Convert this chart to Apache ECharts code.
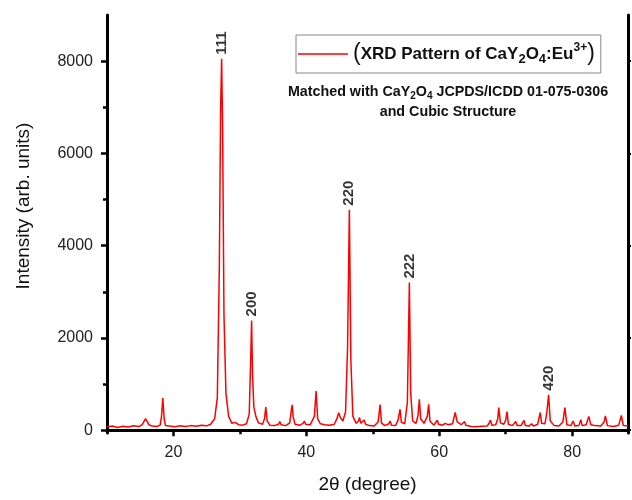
<!DOCTYPE html>
<html>
<head>
<meta charset="utf-8">
<script src="https://cdn.jsdelivr.net/npm/echarts@6/dist/echarts.min.js"></script>
<style>html,body{margin:0;padding:0;background:#fff;}#c{width:632px;height:500px;}</style>
</head>
<body>
<div id="c"></div>
<script>
// 2θ (degree) values
const twoTheta = [
10.0,10.8,11.6,12.4,13.2,14.0,14.8,15.3,15.8,16.3,16.8,17.5,18.0,18.2,18.4,18.6,18.8,19.4,20.2,21.0,
21.8,22.6,23.4,24.2,25.0,25.6,26.2,26.6,26.9,27.1,27.25,27.4,27.6,27.9,28.3,28.8,29.3,29.8,30.4,31.0,
31.4,31.6,31.76,31.9,32.1,32.4,32.8,33.4,33.7,33.9,34.1,34.5,35.2,35.8,36.0,36.2,36.9,37.5,37.75,37.87,
38.0,38.3,39.0,39.5,39.7,39.9,40.6,41.2,41.47,41.7,42.1,42.8,43.5,44.2,44.6,44.87,45.1,45.5,45.9,46.2,
46.47,46.7,47.0,47.5,47.85,48.0,48.2,48.5,48.7,48.9,49.5,50.2,50.8,51.1,51.3,51.8,52.4,52.6,52.8,53.4,
53.8,54.1,54.3,54.8,55.2,55.5,55.7,56.0,56.5,56.8,57.0,57.2,57.7,58.2,58.4,58.6,59.2,59.5,59.7,59.9,
60.5,60.9,61.1,61.3,62.0,62.4,62.7,63.3,63.6,63.8,64.0,64.8,65.6,66.4,67.2,67.5,67.7,67.9,68.5,68.8,
68.95,69.2,69.7,70.0,70.2,70.4,71.0,71.3,71.5,71.7,72.3,72.6,72.75,72.95,73.5,73.9,74.0,74.2,74.8,75.2,
75.4,75.9,76.2,76.45,76.7,77.3,78.0,78.6,78.9,79.2,79.8,80.15,80.4,81.0,81.3,81.5,82.1,82.5,82.8,83.5,
84.3,84.8,85.0,85.3,86.2,87.0,87.4,87.7,88.4
];
// Intensity (arb. units) values
const intensity = [
70,90,60,85,70,95,80,120,250,120,90,80,110,300,700,250,100,90,75,95,
80,100,85,110,95,130,250,700,3500,7000,8050,6500,2500,800,300,150,170,120,110,140,
350,1400,2380,1200,500,300,160,130,250,500,200,110,100,130,190,120,100,160,450,550,
300,130,110,150,200,130,120,300,850,250,140,120,110,130,250,380,280,200,400,1800,
4780,1500,300,150,200,275,150,140,220,130,100,90,180,555,160,100,140,200,110,100,
220,455,170,140,600,3200,800,200,150,320,670,250,150,300,560,200,110,150,216,130,
110,150,180,120,140,385,180,120,150,190,110,80,75,85,90,150,220,110,120,250,
490,160,130,220,405,130,100,130,190,100,100,140,215,100,90,140,160,90,130,385,
150,140,400,770,200,100,90,180,490,120,100,200,90,100,230,100,120,300,120,100,
90,180,310,100,80,110,320,100,90
];
// Indexed reflections (hkl)
const peakHKL = ['111','200','220','222','420'];
const peakPos = [27.25,31.76,46.47,55.5,76.45];
const peakInt = [8050,2380,4780,3200,770];
// Axis tick values
const xLabelTicks = [20,40,60,80];
const xMinorTicks = [30,50,70];
const yLabelTicks = [0,2000,4000,6000,8000];
const yMinorTicks = [1000,3000,5000,7000];

const FONT = 'Arial, "Liberation Sans", Helvetica, sans-serif';
const chart = echarts.init(document.getElementById('c'));
const xrd = twoTheta.map((x,i)=>[x,intensity[i]]);
const hkl = peakPos.map((x,i)=>({value:[x,peakInt[i]],name:peakHKL[i]}));
const XMIN=10, XMAX=88.4, YMIN=-60, YMAX=9000;
const lineBlack = {lineStyle:{color:'#000',width:3}};
chart.setOption({
  animation:false,
  backgroundColor:'#fff',
  title:{
    text:'{b|Matched with CaY}{s|2}{b|O}{s|4}{b| JCPDS/ICDD 01-075-0306}\n{b|and Cubic Structure}',
    left:443, top:77, textAlign:'center',
    textStyle:{
      fontFamily:FONT,
      rich:{
        b:{fontSize:14.3,fontWeight:'bold',color:'#111',fontFamily:FONT,lineHeight:20},
        s:{fontSize:10,fontWeight:'bold',color:'#111',fontFamily:FONT,lineHeight:20,padding:[8,0,0,0]}
      }
    }
  },
  legend:{
    left:296, top:35,
    padding:[7,6,7,2],
    borderColor:'#888', borderWidth:1,
    itemWidth:50, itemHeight:14, itemGap:4,
    data:[{name:'xrd', icon:'path://M0,0 L50,0 L50,1.6 L0,1.6 Z'}],
    formatter:()=>'{p|(}{t|XRD Pattern of CaY}{sub|2}{t|O}{sub|4}{t|:Eu}{sup|3+}{p|)}',
    textStyle:{
      fontFamily:FONT,
      rich:{
        p:{fontSize:23,color:'#111',fontFamily:FONT,lineHeight:27},
        t:{fontSize:17,fontWeight:'bold',color:'#111',fontFamily:FONT,lineHeight:27},
        sub:{fontSize:13,fontWeight:'bold',color:'#111',fontFamily:FONT,lineHeight:27,padding:[10,0,0,0]},
        sup:{fontSize:12,fontWeight:'bold',color:'#111',fontFamily:FONT,lineHeight:27,padding:[0,0,12,0]}
      }
    }
  },
  grid:{left:107,right:4,top:15,bottom:67,containLabel:false},
  xAxis:[
    {type:'value',position:'bottom',min:XMIN,max:XMAX,
     axisLine:{show:true,...lineBlack},
     axisTick:{show:true,customValues:xLabelTicks,length:6,inside:false,lineStyle:{color:'#000',width:2.5}},
     axisLabel:{show:true,customValues:xLabelTicks,fontSize:16,color:'#222',fontFamily:FONT,margin:12,formatter:v=>String(v)},
     splitLine:{show:false},
     name:'2θ (degree)',nameLocation:'middle',nameGap:42,
     nameTextStyle:{fontSize:19,color:'#111',fontFamily:FONT}},
    {type:'value',position:'bottom',min:XMIN,max:XMAX,
     axisLine:{show:false},
     axisTick:{show:true,customValues:xMinorTicks,length:4,lineStyle:{color:'#000',width:2.5}},
     axisLabel:{show:false},splitLine:{show:false}},
    {type:'value',position:'top',min:XMIN,max:XMAX,
     axisLine:{show:true,...lineBlack},axisTick:{show:false},axisLabel:{show:false},splitLine:{show:false}}
  ],
  yAxis:[
    {type:'value',position:'left',min:YMIN,max:YMAX,
     axisLine:{show:true,...lineBlack},
     axisTick:{show:true,customValues:yLabelTicks,length:6,lineStyle:{color:'#000',width:2.5}},
     axisLabel:{show:true,customValues:yLabelTicks,fontSize:16,color:'#222',fontFamily:FONT,margin:14,formatter:v=>String(v)},
     splitLine:{show:false},
     name:'Intensity (arb. units)',nameLocation:'middle',nameGap:74,
     nameTextStyle:{fontSize:19,color:'#111',fontFamily:FONT,padding:[0,0,0,36]}},
    {type:'value',position:'left',min:YMIN,max:YMAX,
     axisLine:{show:false},
     axisTick:{show:true,customValues:yMinorTicks,length:4,lineStyle:{color:'#000',width:2.5}},
     axisLabel:{show:false},splitLine:{show:false}},
    {type:'value',position:'right',min:YMIN,max:YMAX,
     axisLine:{show:true,...lineBlack},
     axisTick:{show:true,customValues:yLabelTicks,length:3,lineStyle:{color:'#000',width:2}},
     axisLabel:{show:false},splitLine:{show:false}}
  ],
  series:[
    {name:'xrd',type:'line',xAxisIndex:0,yAxisIndex:0,data:xrd,
     showSymbol:false,symbol:'none',smooth:false,
     lineStyle:{color:'#ff0000',width:1.5},itemStyle:{color:'#ff0000'},z:3},
    {name:'hkl',type:'scatter',xAxisIndex:0,yAxisIndex:0,data:hkl,
     symbolSize:0,silent:true,
     label:{show:true,position:'top',distance:4,rotate:90,align:'left',verticalAlign:'middle',
       formatter:p=>p.name,fontSize:15,fontWeight:'bold',color:'#000',fontFamily:FONT}}
  ]
});
</script>
</body>
</html>
